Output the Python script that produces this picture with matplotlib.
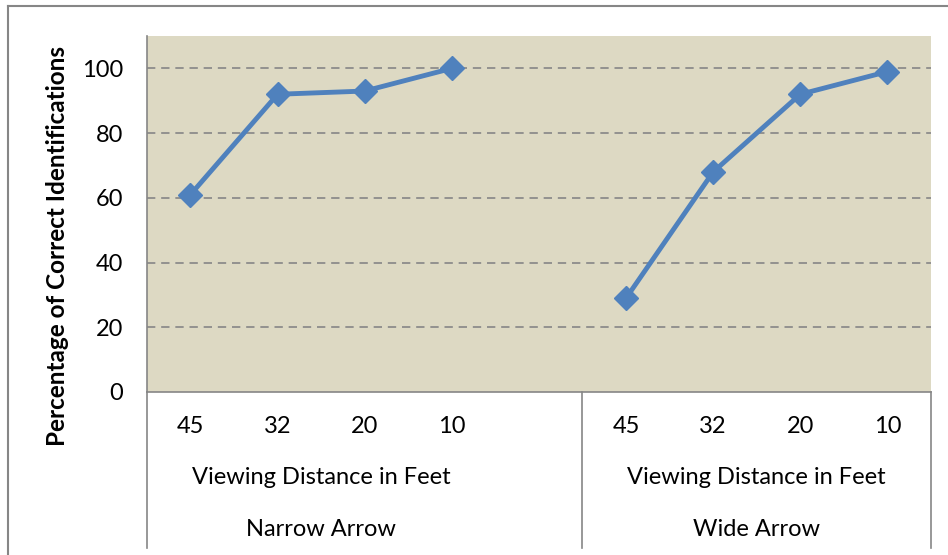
import matplotlib
matplotlib.use("Agg")
import matplotlib.pyplot as plt
from matplotlib.lines import Line2D

plt.rcParams["font.family"] = ["Lato", "DejaVu Sans"]

# data
distances = ["45", "32", "20", "10"]
groups = ["Narrow Arrow", "Wide Arrow"]
narrow = [61, 92, 93, 100]
wide = [29, 68, 92, 99]
y_ticks = [0, 20, 40, 60, 80, 100]

blue = "#4F81BD"
grid_c = "#868686"
bg = "#DDD9C3"
fs = 17


def main():
    fig = plt.figure(figsize=(9.48, 5.55), dpi=100)
    ax = fig.add_axes([0.155, 0.2937, 0.827, 0.6414])
    ax.set_facecolor(bg)

    # 9 category slots: 4 narrow, one empty, 4 wide
    x_n = list(range(len(narrow)))
    x_w = [len(narrow) + 1 + i for i in range(len(wide))]
    for xs, ys in ((x_n, narrow), (x_w, wide)):
        ax.plot(xs, ys, "-D", color=blue, lw=3.5, ms=12, zorder=3)

    ax.set_xlim(-0.5, 8.5)
    ax.set_ylim(0, 110)
    ax.set_yticks(y_ticks)
    ax.tick_params(axis="y", length=0, pad=17, labelsize=fs)
    for v in y_ticks[1:]:
        ax.axhline(v, color=grid_c, lw=1.2, ls=(0, (5, 3.5)), zorder=1)

    ax.set_xticks(x_n + x_w)
    ax.set_xticklabels(distances + distances)
    ax.tick_params(axis="x", length=0, pad=17, labelsize=fs)

    for s in ("top", "right"):
        ax.spines[s].set_visible(False)
    for s in ("left", "bottom"):
        ax.spines[s].set_color(grid_c)
        ax.spines[s].set_linewidth(1.2)

    # multi-level category labels below axis
    trans = ax.get_xaxis_transform()
    centers = [(x_n[0] + x_n[-1]) / 2, (x_w[0] + x_w[-1]) / 2]
    for c, g in zip(centers, groups):
        ax.text(c, -0.239, "Viewing Distance in Feet", transform=trans,
                ha="center", va="center", fontsize=fs)
        ax.text(c, -0.385, g, transform=trans, ha="center", va="center", fontsize=fs)
    for xv in (-0.5, 4.5, 8.5):
        ax.add_line(Line2D([xv, xv], [0, -0.437], transform=trans, color=grid_c,
                           lw=1.2, clip_on=False))

    fig.text(0.061, 0.557, "Percentage of Correct Identifications", rotation=90,
             ha="center", va="center", fontsize=17.5, fontweight="bold")

    # outer chart border (top and left visible in the crop)
    fig.add_artist(Line2D([0.0085, 0.0085], [0, 0.989], color=grid_c, lw=1.5,
                          transform=fig.transFigure))
    fig.add_artist(Line2D([0.0085, 1.0], [0.989, 0.989], color=grid_c, lw=1.5,
                          transform=fig.transFigure))

    fig.savefig("out.png", dpi=100)


if __name__ == "__main__":
    main()
